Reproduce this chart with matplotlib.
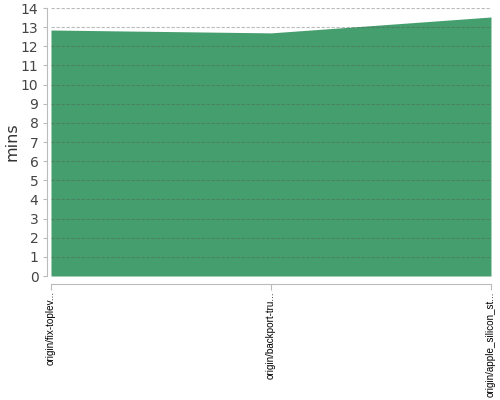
import matplotlib
matplotlib.use("Agg")
import matplotlib.pyplot as plt

categories = ["origin/fix-toplev...", "origin/backport-tru...", "origin/apple_silicon_st..."]
values = [12.85, 12.7, 13.53]
yticks = list(range(0, 15))

fig = plt.figure(figsize=(5, 4), dpi=100)
ax = fig.add_axes([51/500, (400-276)/400, 440/500, (276-8)/400])

ax.spines["top"].set_visible(False)
ax.spines["right"].set_visible(False)
ax.spines["left"].set_position(("outward", 3))
ax.spines["bottom"].set_position(("outward", 6))
ax.spines["left"].set_color("#bbbbbb")
ax.spines["bottom"].set_color("#bbbbbb")

x = list(range(len(categories)))
ax.fill_between(x, values, 0, color="#459e6d", linewidth=0, zorder=1)
ax.set_xlim(0, len(categories) - 1)
ax.set_ylim(0, 14)
ax.set_yticks(yticks)
ax.set_yticklabels([str(t) for t in yticks], fontsize=10, color="#444444")
ax.set_xticks(x)
ax.set_xticklabels(categories, fontsize=7.1, color="black", family="Liberation Sans",
                   rotation=90, ha="center", va="top")
ax.grid(axis="y", color="#555555", alpha=0.4, linestyle=(0, (3, 1.5)), linewidth=0.8, zorder=2)
ax.set_axisbelow(False)

ax.tick_params(axis="y", length=3, color="#bbbbbb", pad=3)
ax.tick_params(axis="x", length=4, color="#bbbbbb", pad=1)
ax.set_ylabel("mins", fontsize=11.5, color="#333333", labelpad=1)

fig.savefig("out.png", dpi=100)
